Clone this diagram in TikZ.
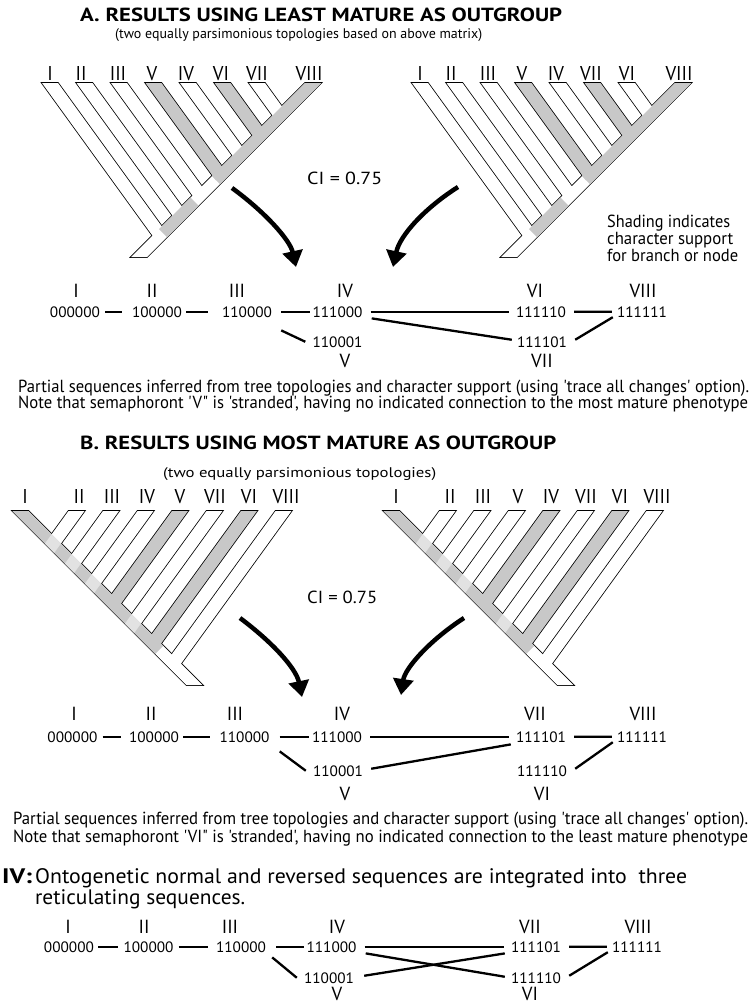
\documentclass[tikz,border=0pt]{standalone}
\usepackage{fontspec}
\usepackage{graphicx}
\newfontfamily\pt{PT Sans}
\usetikzlibrary{arrows.meta}
\definecolor{shgray}{RGB}{200,200,200}
\definecolor{lightpatch}{RGB}{226,226,226}
\newlength\fitlen
% scale text horizontally to a given width (in pt)
\newcommand\fitw[2]{\settowidth\fitlen{#2}\scalebox{\fpeval{#1/\fitlen}}[1]{#2}}
% scale #3 horizontally by the factor that brings #2 to width #1
\newcommand\fitby[3]{\settowidth\fitlen{#2}\scalebox{\fpeval{#1/\fitlen}}[1]{#3}}
\newcommand\NN[1]{\fitw{50}{#1}}
\newcommand\RN[1]{\fitby{27}{VIII}{#1}}
% branch ribbon (A-frame), #1 = style, #2 = left x of tip
\newcommand\br[2]{\path[#1] (#2,83) -- ({#2+16},83) -- ({#2+16+0.724*(297-#2)/1.724},{83+(297-#2)/1.724}) -- ({#2+0.724*(313-#2)/1.724},{83+(313-#2)/1.724}) -- cycle;}
% backbone ribbon
\newcommand\bb[1]{\path[#1] (305,83) -- (321,83) -- (147,257) -- (131,257) -- cycle;}
% light patch where a white branch crosses a grey backbone
\newcommand\patch[1]{\fill[lightpatch] ({#1+0.724*(305-#1)/1.724},{83+(305-#1)/1.724}) -- ({#1+16+0.724*(289-#1)/1.724},{83+(289-#1)/1.724}) -- ({#1+16+0.724*(305-#1)/1.724},{83+(305-#1)/1.724}) -- ({#1+0.724*(321-#1)/1.724},{83+(321-#1)/1.724}) -- cycle;}
\newcommand\drawtree[3]{%
  \foreach \x in {#1,#2} {\br{treeline}{\x}}
  \bb{treeline}
  \bb{fill=white}
  \foreach \x in {#1} {\br{fill=white}{\x}}
  \foreach \x in {#2} {\br{fill=shgray}{\x}}
  \fill[shgray] #3;
}
\begin{document}
\begin{tikzpicture}[x=1pt,y=-1pt,
  treeline/.style={draw=black,line width=1.6pt},
  lab/.style={font=\pt\fontsize{20}{24}\selectfont,inner sep=0pt,anchor=base},
  slab/.style={font=\pt\fontsize{19}{22}\selectfont,inner sep=0pt,anchor=base},
  num/.style={font=\pt\fontsize{15}{18}\selectfont,inner sep=0pt,anchor=base},
  conn/.style={line width=2.3pt},
  bigarrow/.style={line width=4.5pt,-{Triangle[length=16pt,width=20pt]}},
  body/.style={font=\pt\fontsize{17.5}{20}\selectfont,inner sep=0pt,anchor=base west},
  ttl/.style={font=\pt\bfseries\fontsize{19}{24}\selectfont,inner sep=0pt,anchor=base west},
  sub/.style={font=\pt\fontsize{14}{17}\selectfont,inner sep=0pt,anchor=base west},
  ci/.style={font=\pt\fontsize{17.5}{20}\selectfont,inner sep=0pt,anchor=base west}]
\useasboundingbox (0,0) rectangle (751,1005);
\fill[white] (0,0) rectangle (751,1005);

% ---------------- Section A ----------------
\node[ttl] (titleA) at (80,21.5) {\fitw{482}{A. RESULTS USING LEAST MATURE AS OUTGROUP}};
\node[sub] (subA) at (115,38) {\fitw{367}{(two equally parsimonious topologies based on above matrix)}};

\begin{scope}
  \drawtree{42,76.5,111,180,249}{145.5,214.5}{(159,229) -- (167,237) -- (198.5,205.5) -- (190.5,197.5) -- cycle (212,176) -- (220,184) -- (321,83) -- (305,83) -- cycle}
\end{scope}
\begin{scope}[shift={(370,0)}]
  \drawtree{42,76.5,111,180,249}{145.5,214.5}{(159,229) -- (167,237) -- (198.5,205.5) -- (190.5,197.5) -- cycle (212,176) -- (220,184) -- (321,83) -- (305,83) -- cycle}
\end{scope}
\foreach \t/\x [count=\i] in {I/50,II/81,III/118,V/152,IV/186,VI/221,VII/257,VIII/309}
  \node[lab] (tAL\i) at (\x,80) {\RN{\t}};
\foreach \t/\x [count=\i] in {I/420,II/451,III/488,V/522,IV/556,VII/591,VI/627,VIII/679}
  \node[lab] (tAR\i) at (\x,80) {\RN{\t}};

\node[ci] (ciA) at (307,184) {\fitw{75}{CI = 0.75}};
\node[body] (shA1) at (607,227) {\fitw{123}{Shading indicates}};
\node[body] (shA2) at (607,244) {\fitw{126}{character support}};
\node[body] (shA3) at (607,261) {\fitw{131}{for branch or node}};

\coordinate (arA1s) at (232,188); \coordinate (arA1e) at (296,267);
\draw[bigarrow] (arA1s) .. controls (265,212) and (290,240) .. (arA1e);
\coordinate (arA2s) at (458,187); \coordinate (arA2e) at (393,267);
\draw[bigarrow] (arA2s) .. controls (425,208) and (400,235) .. (arA2e);

% sequence network A
\node[slab] (aI) at (76,297) {\RN{I}};
\node[slab] (aII) at (152,297) {\RN{II}};
\node[slab] (aIII) at (237,297) {\RN{III}};
\node[slab] (aIV) at (345,297) {\RN{IV}};
\node[slab] (aVI) at (535,297) {\RN{VI}};
\node[slab] (aVIII) at (643,297) {\RN{VIII}};
\node[slab] (aV) at (345,367) {\RN{V}};
\node[slab] (aVII) at (542,367) {\RN{VII}};
\node[num] (a0) at (75,317) {\NN{000000}};
\node[num] (a1) at (157,317) {\NN{100000}};
\node[num] (a2) at (247,317) {\NN{110000}};
\node[num] (a3) at (337.5,317) {\NN{111000}};
\node[num] (a4) at (541,317) {\NN{111110}};
\node[num] (a5) at (642,317) {\NN{111111}};
\node[num] (a6) at (337.5,347) {\NN{110001}};
\node[num] (a7) at (542,347) {\NN{111101}};
\draw[conn] ([xshift=5pt]a0.east) -- ([xshift=-10pt]a1.west);
\draw[conn] ([xshift=4pt]a1.east) -- ([xshift=-14pt]a2.west);
\draw[conn] ([xshift=9pt]a2.east) -- ([xshift=-2pt]a3.west);
\draw[conn] ([xshift=8pt]a3.east) -- ([xshift=-7pt]a4.west);
\draw[conn] ([xshift=8pt]a4.east) -- ([xshift=-5pt]a5.west);
\draw[conn] ([xshift=9pt,yshift=-13pt]a2.south east) -- ([xshift=-7pt]a6.west);
\draw[conn] ([xshift=9pt,yshift=-1pt]a3.south east) -- ([xshift=-5pt,yshift=2pt]a7.west);
\draw[conn] ([xshift=8pt,yshift=2pt]a7.east) -- ([xshift=-4pt]a5.south west);

\node[body] (pA) at (18,392) {\fitw{731}{Partial sequences inferred from tree topologies and character support (using 'trace all changes' option).}};
\node[body] (nA) at (18,408) {\fitw{730}{Note that semaphoront 'V" is 'stranded', having no indicated connection to the most mature phenotype}};

% ---------------- Section B ----------------
\node[ttl] (titleB) at (80,449.5) {\fitw{476}{B. RESULTS USING MOST MATURE AS OUTGROUP}};
\node[sub] (subB) at (163,477) {\fitw{273}{(two equally parsimonious topologies)}};

\begin{scope}[shift={(333.5,428)},xscale=-1]
  \drawtree{42,111,180,214.5,249}{76.5,145.5}{(170.25,217.75) -- (178.25,225.75) -- (321,83) -- (305,83) -- cycle}
  \foreach \x in {111,180,214.5,249} {\patch{\x}}
\end{scope}
\begin{scope}[shift={(704.5,428)},xscale=-1]
  \drawtree{42,111,180,214.5,249}{76.5,145.5}{(170.25,217.75) -- (178.25,225.75) -- (321,83) -- (305,83) -- cycle}
  \foreach \x in {111,180,214.5,249} {\patch{\x}}
\end{scope}
\foreach \t/\x [count=\i] in {I/25,II/79,III/112,IV/147,V/180,VII/215,VI/249,VIII/286}
  \node[lab] (tBL\i) at (\x,503) {\RN{\t}};
\foreach \t/\x [count=\i] in {I/396,II/450,III/483,V/518,IV/551,VII/586,VI/620,VIII/657}
  \node[lab] (tBR\i) at (\x,503) {\RN{\t}};

\node[ci] (ciB) at (307,603) {\fitw{70}{CI = 0.75}};

\coordinate (arB1s) at (240,618); \coordinate (arB1e) at (302,697);
\draw[bigarrow] (arB1s) .. controls (272,642) and (296,668) .. (arB1e);
\coordinate (arB2s) at (464,618); \coordinate (arB2e) at (401,695);
\draw[bigarrow] (arB2s) .. controls (430,640) and (405,668) .. (arB2e);

% sequence network B
\node[slab] (bI) at (74,720) {\RN{I}};
\node[slab] (bII) at (151,720) {\RN{II}};
\node[slab] (bIII) at (235,720) {\RN{III}};
\node[slab] (bIV) at (342,720) {\RN{IV}};
\node[slab] (bVII) at (535,720) {\RN{VII}};
\node[slab] (bVIII) at (643,720) {\RN{VIII}};
\node[slab] (bV) at (345,800) {\RN{V}};
\node[slab] (bVI) at (542,800) {\RN{VI}};
\node[num] (b0) at (72.5,742) {\NN{000000}};
\node[num] (b1) at (154,742) {\NN{100000}};
\node[num] (b2) at (244.5,742) {\NN{110000}};
\node[num] (b3) at (337,742) {\NN{111000}};
\node[num] (b4) at (541,742) {\NN{111101}};
\node[num] (b5) at (642,742) {\NN{111111}};
\node[num] (b6) at (338,776) {\NN{110001}};
\node[num] (b7) at (542,776) {\NN{111110}};
\draw[conn] ([xshift=5pt]b0.east) -- ([xshift=-8pt]b1.west);
\draw[conn] ([xshift=4pt]b1.east) -- ([xshift=-9pt]b2.west);
\draw[conn] ([xshift=10pt]b2.east) -- ([xshift=-3pt]b3.west);
\draw[conn] ([xshift=8pt]b3.east) -- ([xshift=-7pt]b4.west);
\draw[conn] ([xshift=8pt]b4.east) -- ([xshift=-5pt]b5.west);
\draw[conn] ([xshift=10pt,yshift=-9pt]b2.south east) -- ([xshift=-7pt]b6.west);
\draw[conn] ([xshift=8pt,yshift=2pt]b6.east) -- ([xshift=-5pt,yshift=-2pt]b4.south west);
\draw[conn] ([xshift=8pt,yshift=2pt]b7.east) -- ([xshift=-4pt]b5.south west);

\node[body] (pB) at (13,824) {\fitw{735}{Partial sequences inferred from tree topologies and character support (using 'trace all changes' option).}};
\node[body] (nB) at (13,842) {\fitw{735}{Note that semaphoront 'VI" is 'stranded', having no indicated connection to the least mature phenotype}};

% ---------------- Section IV ----------------
\node[font=\pt\bfseries\fontsize{21}{24}\selectfont,inner sep=0pt,anchor=base west] (ivhead) at (2,883) {\fitw{30}{IV:}};
\node[font=\pt\fontsize{21}{24}\selectfont,inner sep=0pt,anchor=base west] (ivt1) at (35,883) {\fitby{337}{Ontogenetic normal and reversed se}{Ontogenetic normal and reversed sequences are integrated into\ \ three}};
\node[font=\pt\fontsize{21}{24}\selectfont,inner sep=0pt,anchor=base west] (ivt2) at (35,904) {\fitw{210}{reticulating sequences.}};

\node[slab] (cI) at (68,933) {\RN{I}};
\node[slab] (cII) at (144,933) {\RN{II}};
\node[slab] (cIII) at (230,933) {\RN{III}};
\node[slab] (cIV) at (337,933) {\RN{IV}};
\node[slab] (cVII) at (530,933) {\RN{VII}};
\node[slab] (cVIII) at (638,933) {\RN{VIII}};
\node[slab] (cV) at (337,1000) {\RN{V}};
\node[slab] (cVI) at (530,1000) {\RN{VI}};
\node[num] (c0) at (69,952) {\NN{000000}};
\node[num] (c1) at (148.5,952) {\NN{100000}};
\node[num] (c2) at (241,952) {\NN{110000}};
\node[num] (c3) at (331.5,952) {\NN{111000}};
\node[num] (c4) at (536,952) {\NN{111101}};
\node[num] (c5) at (637,952) {\NN{111111}};
\node[num] (c6) at (329,983) {\NN{110001}};
\node[num] (c7) at (536,983) {\NN{111110}};
\draw[conn] ([xshift=4pt]c0.east) -- ([xshift=-5pt]c1.west);
\draw[conn] ([xshift=5pt]c1.east) -- ([xshift=-8pt]c2.west);
\draw[conn] ([xshift=10pt]c2.east) -- ([xshift=-2pt]c3.west);
\draw[conn] ([xshift=8pt]c3.east) -- ([xshift=-7pt]c4.west);
\draw[conn] ([xshift=8pt]c4.east) -- ([xshift=-5pt]c5.west);
\draw[conn] ([xshift=6pt,yshift=-5pt]c2.south east) -- ([xshift=-7pt]c6.west);
\draw[conn] ([xshift=9pt,yshift=-1pt]c3.south east) -- ([xshift=-6pt,yshift=1pt]c7.west);
\draw[conn] ([xshift=10pt,yshift=2pt]c6.east) -- ([xshift=-6pt,yshift=-1pt]c4.south west);
\draw[conn] ([xshift=8pt,yshift=2pt]c7.east) -- ([xshift=-4pt]c5.south west);
\end{tikzpicture}
\end{document}
